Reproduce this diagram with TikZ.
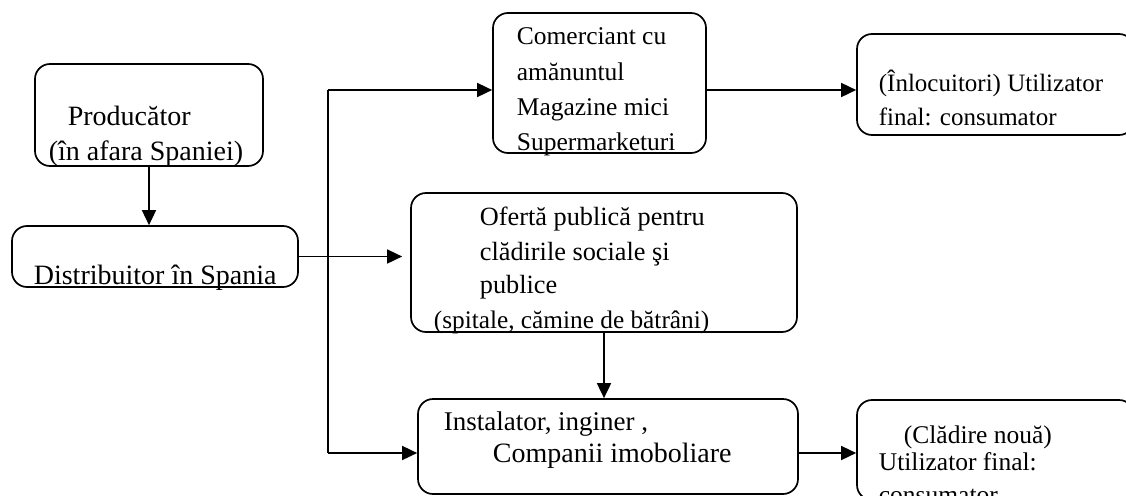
\documentclass[tikz,border=0pt]{standalone}
\usepackage{fontspec}
\setmainfont{Liberation Serif}
\usetikzlibrary{arrows.meta,calc}

\begin{document}
\begin{tikzpicture}[x=1pt, y=-1pt, line width=1.7pt,
  box/.style={draw, rounded corners=15pt, inner sep=0pt},
  txt/.style={anchor=base west, inner sep=0pt, font=\fontsize{#1}{35}\selectfont},
  txt/.default=28,
  arr/.style={-{Triangle[length=15pt,width=14pt]}}]
  \useasboundingbox (0,0) rectangle (1126,495);
  % casete
  \node[box, minimum width=228, minimum height=102] (prod) at (149,115) {};
  \node[box, minimum width=286, minimum height=61] (dist) at (155,256.5) {};
  \node[box, minimum width=213, minimum height=140] (comm) at (599.5,83) {};
  \node[box, minimum width=277, minimum height=101] (repl) at (995.5,84.5) {};
  \node[box, minimum width=386, minimum height=139] (ofer) at (604,262.5) {};
  \node[box, minimum width=380, minimum height=95] (inst) at (608,446.5) {};
  \node[box, minimum width=277, minimum height=100] (newb) at (995.5,450) {};
  % texte
  \node[txt] (prod1) at (67,125) {Producător};
  \node[txt] (prod2) at (48,160) {(în afara Spaniei)};
  \node[txt] (dist1) at (33,284) {Distribuitor în Spania};
  \node[txt=25.5] (comm1) at (516,45) {Comerciant cu};
  \node[txt=25.5] (comm2) at (516,81) {amănuntul};
  \node[txt=25.5] (comm3) at (516,115) {Magazine mici};
  \node[txt=25.5] (comm4) at (516,150) {Supermarketuri};
  \node[txt=25] (repl1) at (878,92) {(Înlocuitori) Utilizator};
  \node[txt=25] (repl2) at (878,125) {final: consumator};
  \node[txt=26.3] (ofer1) at (479,225) {Ofertă publică pentru};
  \node[txt=26.3] (ofer2) at (479,260) {clădirile sociale şi};
  \node[txt=26.3] (ofer3) at (479,293) {publice};
  \node[txt=25.3] (ofer4) at (433,328) {(spitale, cămine de bătrâni)};
  \node[txt=27] (inst1) at (443,430) {Instalator, inginer ,};
  \node[txt] (inst2) at (492,462) {Companii imoboliare};
  \node[txt=25.5] (newb1) at (903,443) {(Clădire nouă)};
  \node[txt=25.5] (newb2) at (878,470) {Utilizator final:};
  \node[txt=25.5] (newb3) at (878,503) {consumator};
  % ramificatie
  \coordinate (up) at (328,90);
  \coordinate (down) at (328,453);
  \draw[arr] (prod.south) -- (prod.south |- dist.north);
  \draw[arr, shorten >=8pt] (dist.east) -- (dist.east -| ofer.west);
  \draw (up) -- (down);
  \draw[arr] (up) -- (up -| comm.west);
  \draw[arr] (down) -- (down -| inst.west);
  \draw[arr] (up -| comm.east) -- (up -| repl.west);
  \draw[arr] (ofer.south) -- (ofer.south |- inst.north);
  \draw[arr] (down -| inst.east) -- (down -| newb.west);
\end{tikzpicture}
\end{document}
